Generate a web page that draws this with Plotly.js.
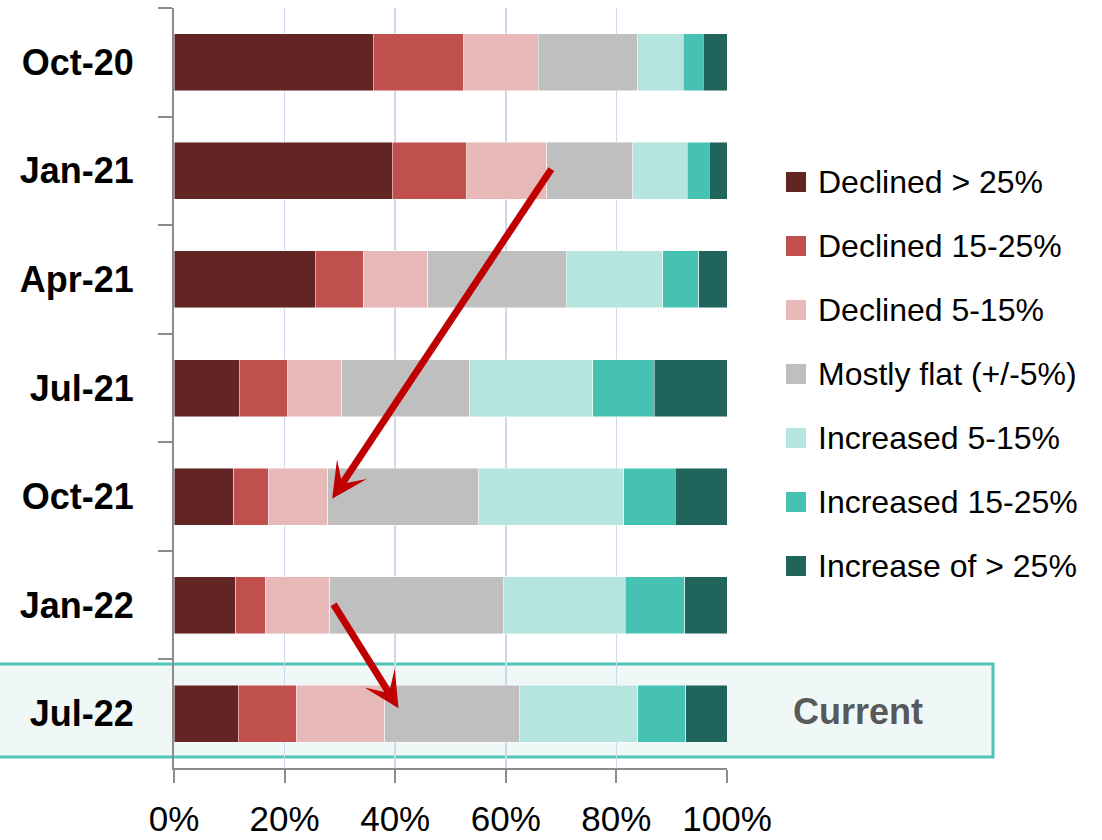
<!DOCTYPE html>
<html>
<head>
<meta charset="utf-8">
<script src="https://cdn.plot.ly/plotly-3.0.1.min.js"></script>
<style>html,body{margin:0;padding:0;background:#fff;}#chart{width:1102px;height:840px;}</style>
</head>
<body>
<div id="chart"></div>
<script>
// ---- data ----
const periods = ["Oct-20", "Jan-21", "Apr-21", "Jul-21", "Oct-21", "Jan-22", "Jul-22"];
const seriesNames = ["Declined > 25%", "Declined 15-25%", "Declined 5-15%", "Mostly flat (+/-5%)",
                     "Increased 5-15%", "Increased 15-25%", "Increase of > 25%"];
const declined25   = [36.0, 39.5, 25.5, 11.8, 10.8, 11.2, 11.6];
const declined1525 = [16.4, 13.4,  8.7,  8.8,  6.2,  5.3, 10.5];
const declined515  = [13.5, 14.5, 11.7,  9.7, 10.8, 11.7, 16.0];
const mostlyFlat   = [18.0, 15.6, 25.0, 23.2, 27.3, 31.3, 24.3];
const increased515 = [ 8.2,  9.8, 17.5, 22.2, 26.2, 22.1, 21.5];
const increased1525= [ 3.6,  4.0,  6.5, 11.1,  9.3, 10.8,  8.6];
const increased25  = [ 4.3,  3.2,  5.1, 13.2,  9.4,  7.6,  7.5];
const xTickVals = [0, 20, 40, 60, 80, 100];
const xTickText = ["0%", "20%", "40%", "60%", "80%", "100%"];
const highlightLabel = "Current";

// ---- styles ----
const colors = ["#632523", "#c0504d", "#e6b9b8", "#bfbfbf", "#b6e5df", "#46c2b3", "#21645c"];
const allSeries = [declined25, declined1525, declined515, mostlyFlat, increased515, increased1525, increased25];

const FONT = "'Liberation Sans', Arial, sans-serif";
const W = 1102, H = 840;
const L = 174, R = 727, T = 8, B = 768;
const px = x => (x - L) / (R - L);
const py = y => (B - y) / (B - T);

const traces = allSeries.map((vals, i) => ({
  type: "bar",
  orientation: "h",
  name: seriesNames[i],
  y: periods,
  x: vals,
  width: 0.525,
  marker: {color: colors[i], line: {color: "rgba(255,255,255,0.6)", width: 0.8}},
  hoverinfo: "name+x",
  showlegend: false
}));

const shapes = [
  // highlight box for current period
  {type: "rect", xref: "paper", yref: "paper", x0: px(-2), x1: px(993), y0: py(757), y1: py(664),
   fillcolor: "#eff8f7", line: {color: "#4ec5b5", width: 3}, layer: "below"}
];
const annotations = [
  {xref: "paper", yref: "paper", x: px(858), y: py(711), text: "<b>" + highlightLabel + "</b>",
   showarrow: false, xanchor: "center", yanchor: "middle",
   font: {family: FONT, size: 36, color: "#595959"}},
  // arrows
  {xref: "x", yref: "y", axref: "x", ayref: "y", x: 28.6, y: 4.02, ax: 68.4, ay: 0.97,
   showarrow: true, arrowhead: 3, arrowsize: 0.85, arrowwidth: 7, arrowcolor: "#c00000", text: "", standoff: 0},
  {xref: "x", yref: "y", axref: "x", ayref: "y", x: 40.6, y: 5.95, ax: 28.7, ay: 4.98,
   showarrow: true, arrowhead: 3, arrowsize: 0.85, arrowwidth: 7, arrowcolor: "#c00000", text: "", standoff: 0}
];

// custom legend
seriesNames.forEach((name, i) => {
  const cy = 182 + 64 * i;
  shapes.push({type: "rect", xref: "paper", yref: "paper",
    x0: px(786), x1: px(806), y0: py(cy + 10), y1: py(cy - 10),
    fillcolor: colors[i], line: {width: 0}});
  annotations.push({xref: "paper", yref: "paper", x: px(816), y: py(cy), text: name,
    showarrow: false, xanchor: "left", yanchor: "middle",
    font: {family: FONT, size: 32, color: "#000"}});
});

const layout = {
  width: W, height: H,
  margin: {l: L, r: W - R, t: T, b: H - B, pad: 0},
  paper_bgcolor: "#ffffff",
  plot_bgcolor: "rgba(0,0,0,0)",
  barmode: "stack",
  bargap: 0.475,
  showlegend: false,
  xaxis: {
    range: [0, 100], tickvals: xTickVals, ticktext: xTickText,
    showgrid: true, gridcolor: "#cdd9ea", gridwidth: 1.5, zeroline: false,
    showline: true, linecolor: "#8c8c8c", linewidth: 2,
    ticks: "outside", ticklen: 13, tickwidth: 2, tickcolor: "#8c8c8c",
    ticklabelstandoff: 6,
    tickfont: {family: FONT, size: 35, color: "#000"},
    fixedrange: true
  },
  yaxis: {
    type: "category", autorange: "reversed",
    showgrid: false, zeroline: false,
    showline: true, linecolor: "#8c8c8c", linewidth: 2,
    ticks: "outside", tickson: "boundaries", ticklen: 14, tickwidth: 2, tickcolor: "#8c8c8c",
    ticklabelstandoff: 31,
    tickfont: {family: FONT, size: 36, color: "#000", weight: "bold"},
    fixedrange: true
  },
  shapes: shapes,
  annotations: annotations
};

Plotly.newPlot("chart", traces, layout, {displayModeBar: false, staticPlot: true});
</script>
</body>
</html>
